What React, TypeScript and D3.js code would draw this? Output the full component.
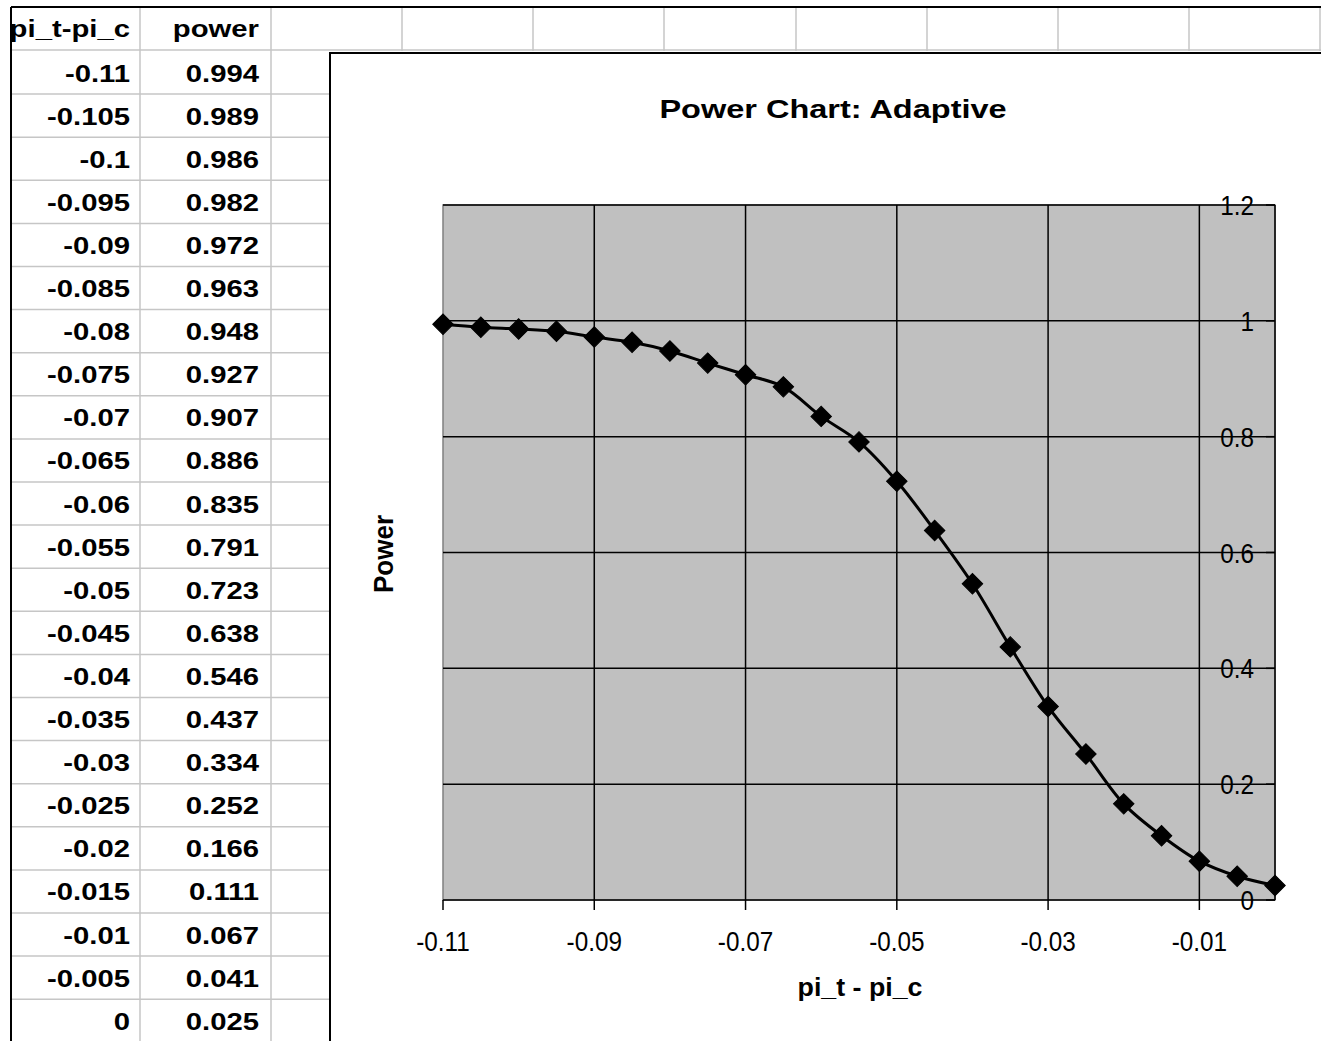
import React from "react";
import * as d3 from "d3";

// ---------- data ----------
const diffs = [-0.11, -0.105, -0.1, -0.095, -0.09, -0.085, -0.08, -0.075, -0.07, -0.065, -0.06, -0.055, -0.05, -0.045, -0.04, -0.035, -0.03, -0.025, -0.02, -0.015, -0.01, -0.005, 0];
const powers = [0.994, 0.989, 0.986, 0.982, 0.972, 0.963, 0.948, 0.927, 0.907, 0.886, 0.835, 0.791, 0.723, 0.638, 0.546, 0.437, 0.334, 0.252, 0.166, 0.111, 0.067, 0.041, 0.025];
const tableHeaders = ["pi_t-pi_c", "power"];
const xTicks = [-0.11, -0.09, -0.07, -0.05, -0.03, -0.01];
const xTickLabels = ["-0.11", "-0.09", "-0.07", "-0.05", "-0.03", "-0.01"];
const yTicks = [0, 0.2, 0.4, 0.6, 0.8, 1, 1.2];
const yTickLabels = ["0", "0.2", "0.4", "0.6", "0.8", "1", "1.2"];
const chartTitle = "Power Chart: Adaptive";
const xTitle = "pi_t - pi_c";
const yTitle = "Power";

// ---------- layout ----------
const W = 1321;
const H = 1041;
const FONT = "'Liberation Sans', Arial, sans-serif";
const colEdges = [11, 140, 271, 402, 533, 664, 796, 927, 1058, 1189, 1320];
const headerTop = 7;
const headerBottom = 51;
const rowH = 43.1;
const chartX = 330;
const chartY = 53;
const plot = { left: 443, right: 1275, top: 205, bottom: 900 };

function SText(props: any) {
  const { x, y, anchor = "start", size, sx = 1, weight = "normal", rotate, fill = "#000", children } = props;
  const t = `translate(${x},${y})${rotate ? ` rotate(${rotate})` : ""} scale(${sx},1)`;
  return (
    <text transform={t} textAnchor={anchor} fontSize={size} fontWeight={weight} fontFamily={FONT} fill={fill}>
      {children}
    </text>
  );
}

export default function App() {
  const x = d3.scaleLinear().domain([-0.11, 0]).range([plot.left, plot.right]);
  const y = d3.scaleLinear().domain([0, 1.2]).range([plot.bottom, plot.top]);
  const pts = diffs.map((d, i) => [d, powers[i]] as [number, number]);
  const line = d3
    .line<[number, number]>()
    .x((d) => x(d[0]))
    .y((d) => y(d[1]))
    .curve(d3.curveCatmullRom.alpha(0.5));
  const diamond = d3.symbol().type(d3.symbolSquare).size(210)() as string;

  const nRows = diffs.length;
  const rowTop = (k: number) => headerBottom + rowH * k;
  const gridColor = "#c6c6c6";

  const tableFont = 24;
  const tableSx = 1.22;

  return (
    <div style={{ position: "absolute", left: 0, top: 0, width: W, height: H, background: "#fff" }}>
      <svg width={W} height={H} style={{ display: "block" }}>
        <rect x={0} y={0} width={W} height={H} fill="#fff" />
        {/* spreadsheet grid */}
        {colEdges.slice(1).map((cx, i) => (
          <line
            key={"vc" + i}
            x1={cx}
            x2={cx}
            y1={headerTop}
            y2={cx < chartX ? H : headerBottom}
            stroke={gridColor}
            strokeWidth={1.5}
          />
        ))}
        <line x1={colEdges[0]} x2={W} y1={headerBottom - 1} y2={headerBottom - 1} stroke={gridColor} strokeWidth={1.5} />
        {d3.range(1, nRows + 1).map((k) => (
          <line key={"hr" + k} x1={colEdges[0]} x2={chartX} y1={rowTop(k)} y2={rowTop(k)} stroke={gridColor} strokeWidth={1.5} />
        ))}
        {/* outer frame */}
        <line x1={colEdges[0]} x2={W} y1={headerTop} y2={headerTop} stroke="#000" strokeWidth={2} />
        <line x1={colEdges[0]} x2={colEdges[0]} y1={headerTop} y2={H} stroke="#000" strokeWidth={2} />

        {/* table text */}
        <SText x={130} y={(headerTop + headerBottom) / 2 + 8} anchor="end" size={tableFont} sx={tableSx} weight="bold">
          {tableHeaders[0]}
        </SText>
        <SText x={259} y={(headerTop + headerBottom) / 2 + 8} anchor="end" size={tableFont} sx={tableSx} weight="bold">
          {tableHeaders[1]}
        </SText>
        {diffs.map((d, k) => (
          <g key={"row" + k}>
            <SText x={130} y={rowTop(k) + rowH / 2 + 9} anchor="end" size={tableFont} sx={tableSx} weight="bold">
              {String(d)}
            </SText>
            <SText x={259} y={rowTop(k) + rowH / 2 + 9} anchor="end" size={tableFont} sx={tableSx} weight="bold">
              {String(powers[k])}
            </SText>
          </g>
        ))}

        {/* chart area */}
        <rect x={chartX} y={chartY} width={W - chartX + 10} height={H - chartY + 10} fill="#fff" stroke="#000" strokeWidth={2} />

        <SText x={833} y={118} anchor="middle" size={25} sx={1.3} weight="bold">
          {chartTitle}
        </SText>

        {/* plot area */}
        <rect
          x={plot.left}
          y={plot.top}
          width={plot.right - plot.left}
          height={plot.bottom - plot.top}
          fill="#c0c0c0"
          stroke="#808080"
          strokeWidth={1.5}
        />
        {yTicks.filter((t) => t > 0).map((t, i) => (
          <line key={"gy" + i} x1={plot.left} x2={plot.right} y1={y(t)} y2={y(t)} stroke="#000" strokeWidth={1.5} />
        ))}
        {xTicks.filter((t) => t > -0.11).map((t, i) => (
          <line key={"gx" + i} x1={x(t)} x2={x(t)} y1={plot.top} y2={plot.bottom} stroke="#000" strokeWidth={1.5} />
        ))}
        {/* axes */}
        <line x1={plot.left} x2={plot.right} y1={plot.bottom} y2={plot.bottom} stroke="#000" strokeWidth={1.5} />
        <line x1={plot.right} x2={plot.right} y1={plot.top} y2={plot.bottom} stroke="#000" strokeWidth={1.5} />
        {xTicks.map((t, i) => (
          <line key={"tx" + i} x1={x(t)} x2={x(t)} y1={plot.bottom} y2={plot.bottom + 10} stroke="#000" strokeWidth={1.5} />
        ))}
        {yTicks.map((t, i) => (
          <line key={"ty" + i} x1={plot.right - 9} x2={plot.right} y1={y(t)} y2={y(t)} stroke="#000" strokeWidth={1.5} />
        ))}
        {xTicks.map((t, i) => (
          <SText key={"lx" + i} x={x(t)} y={plot.bottom + 51} anchor="middle" size={27} sx={0.9}>
            {xTickLabels[i]}
          </SText>
        ))}
        {yTicks.map((t, i) => (
          <SText key={"ly" + i} x={1254} y={y(t) + 10} anchor="end" size={27} sx={0.9}>
            {yTickLabels[i]}
          </SText>
        ))}

        {/* series */}
        <path d={line(pts) as string} fill="none" stroke="#000" strokeWidth={3} />
        {pts.map((p, i) => (
          <path key={"m" + i} d={diamond} transform={`translate(${x(p[0])},${y(p[1])}) rotate(45)`} fill="#000" stroke="#000" strokeWidth={1} />
        ))}

        {/* axis titles */}
        <SText x={860} y={996} anchor="middle" size={26} sx={1.03} weight="bold">
          {xTitle}
        </SText>
        <SText x={393} y={554} anchor="middle" size={28} sx={0.93} weight="bold" rotate={-90}>
          {yTitle}
        </SText>
      </svg>
    </div>
  );
}
